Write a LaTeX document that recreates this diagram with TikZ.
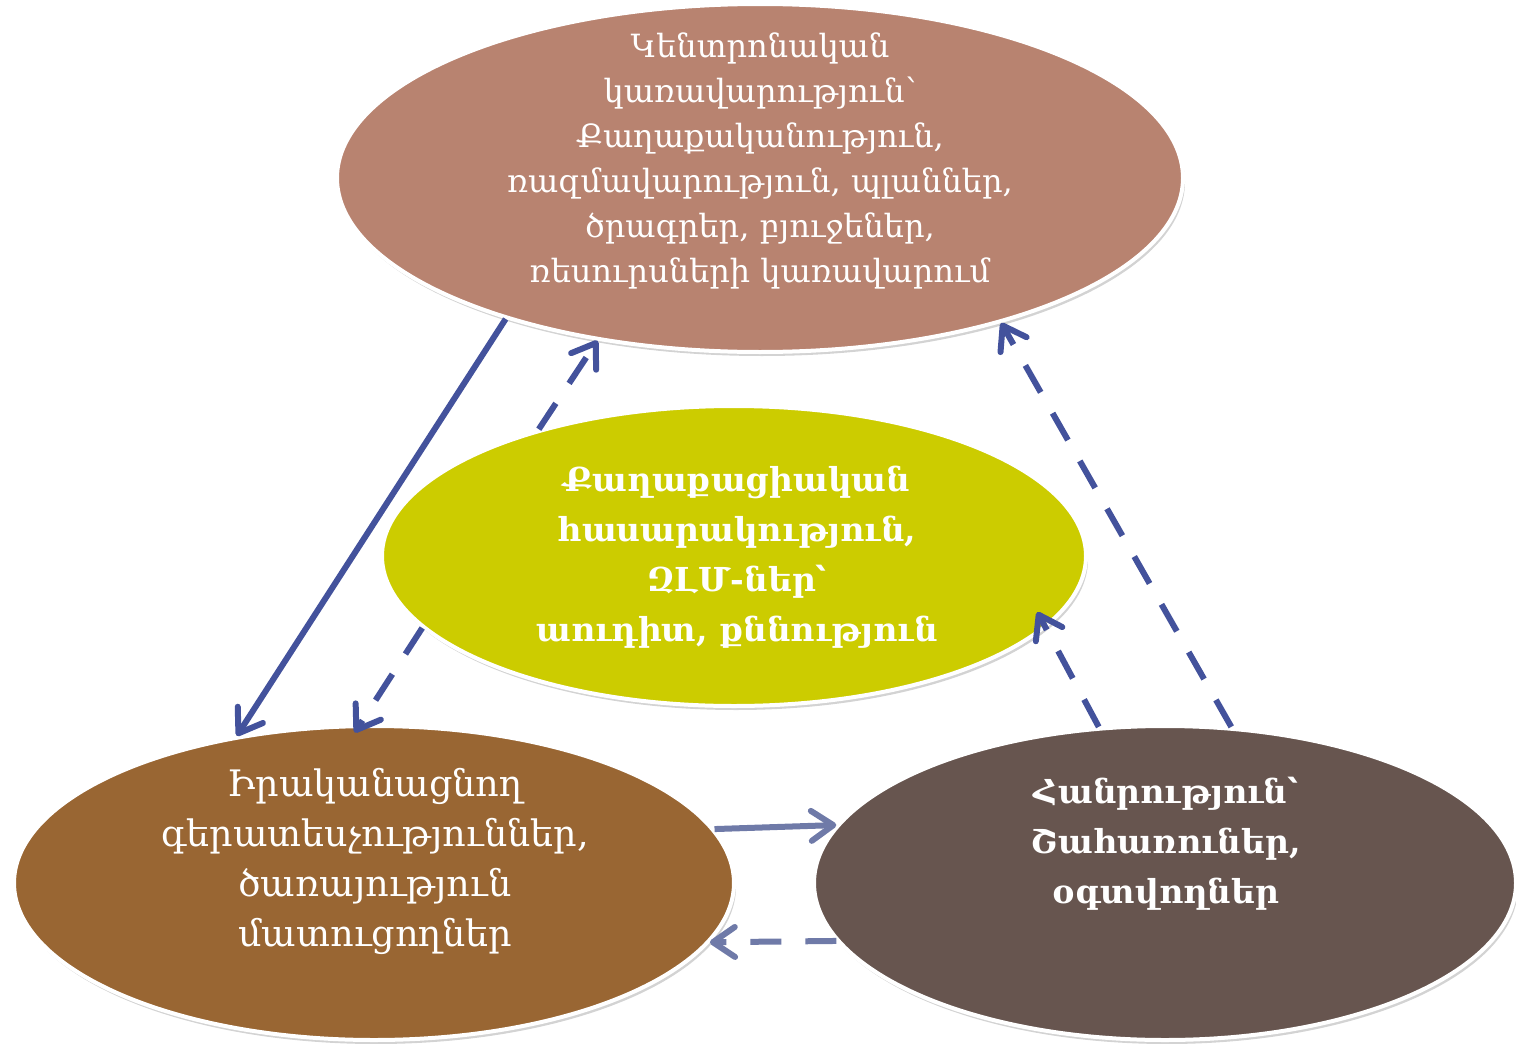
\documentclass[tikz,border=0pt]{standalone}
\usepackage{fontspec}
\setmainfont{DejaVu Serif}
\usetikzlibrary{shapes.geometric,arrows.meta,shadows}
\definecolor{cTop}{RGB}{184,131,112}
\definecolor{cMid}{RGB}{204,204,0}
\definecolor{cLeft}{RGB}{153,102,51}
\definecolor{cRight}{RGB}{103,85,79}
\definecolor{aDark}{RGB}{67,82,156}
\definecolor{aLight}{RGB}{111,122,168}
\tikzset{
  ell/.style={ellipse, draw=white, line width=4pt, inner sep=0pt,
    drop shadow={opacity=0.35, shadow xshift=2pt, shadow yshift=-4pt}},
  txtreg/.style={text=white, align=center, font=\fontsize{32}{45}\selectfont},
  txtbold/.style={text=white, align=center, font=\fontsize{33}{50}\selectfont\bfseries},
  tip/.style={-{Straight Barb[length=22pt,width=30pt,line cap=round,line join=round]}},
  conn/.style={line width=6pt, tip},
  dashconn/.style={conn, dash pattern=on 31pt off 24pt},
}
\begin{document}
\begin{tikzpicture}[x=1pt,y=-1pt]
\useasboundingbox (0,0) rectangle (1516,1044);
\node[ell, fill=cTop, minimum width=846pt, minimum height=348pt] (top) at (760,178) {};
\node[ell, fill=cMid, minimum width=704pt, minimum height=300pt] (mid) at (734,556) {};
\node[ell, fill=cLeft, minimum width=720pt, minimum height=314pt] (left) at (374,883) {};
\node[ell, fill=cRight, minimum width=702pt, minimum height=314pt] (right) at (1165,883) {};

\node[txtreg] (toptxt) at (760,161) {Կենտրոնական\\կառավարություն՝\\Քաղաքականություն,\\ռազմավարություն, պլաններ,\\ծրագրեր, բյուջեներ,\\ռեսուրսների կառավարում};
\node[txtbold] (midtxt) at (737,557) {Քաղաքացիական\\հասարակություն,\\ԶԼՄ-ներ՝\\աուդիտ, քննություն};
\node[txtreg, font=\fontsize{36.5}{50}\selectfont] (lefttxt) at (375,861) {Իրականացնող\\գերատեսչություններ,\\ծառայություն\\մատուցողներ};
\node[txtbold] (righttxt) at (1166,844) {Հանրություն՝\\Շահառուներ,\\օգտվողներ};

\draw[conn, aDark] (top.209.6) -- (left.133.4);
\draw[dashconn, aDark] (mid.147.6) -- (top.225.7);
\draw[dashconn, aDark, shorten >=-10pt] (mid.193.3) -- (left.95.5);
\draw[dashconn, aDark] (right.67.8) -- (top.329.5);
\draw[dashconn, aDark, shorten >=-18pt] (right.113.5) -- (mid.347.1);
\draw[conn, aLight] (left.9.5) -- (right.170.7);
\draw[dashconn, aLight] (right.190.5) -- (left.350.4);
\end{tikzpicture}
\end{document}
